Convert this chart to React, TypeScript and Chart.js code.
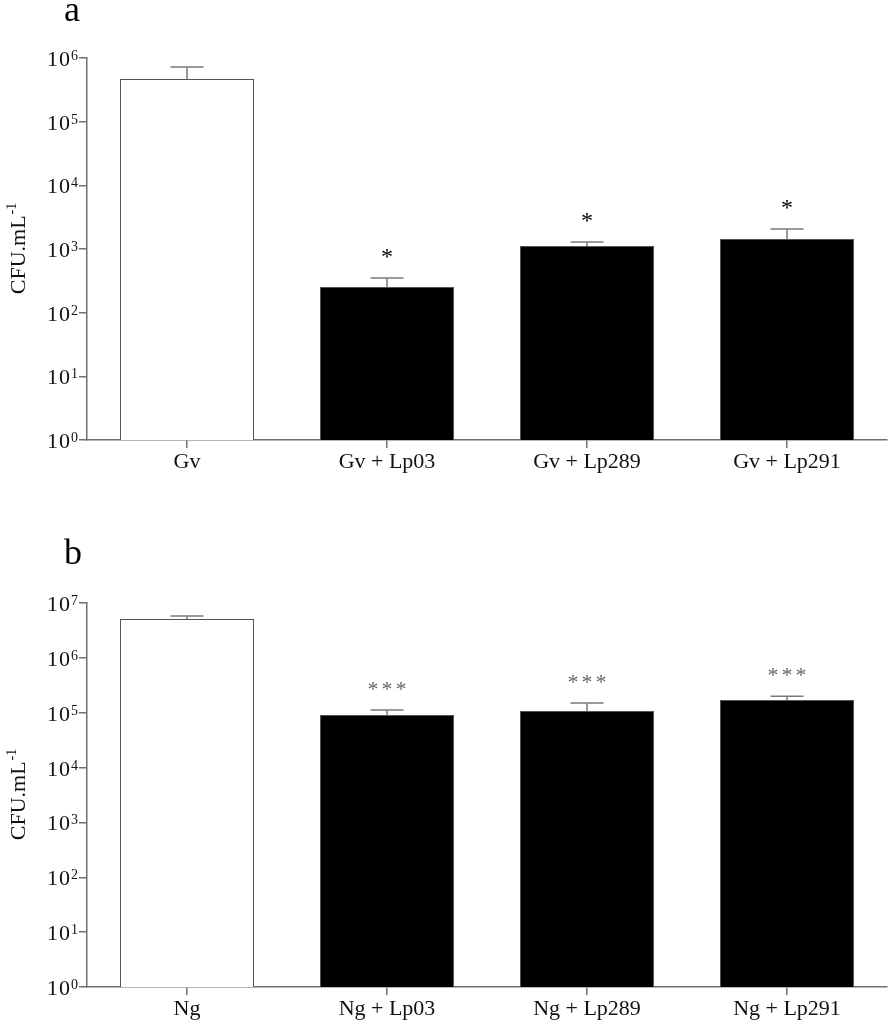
import React, { useEffect, useRef } from 'react';
import { Chart, registerables } from 'chart.js';

Chart.register(...registerables);

// ---- Data (panel a) ----
const categoriesA = ['Gv', 'Gv + Lp03', 'Gv + Lp289', 'Gv + Lp291'];
const meansA = [470000, 253, 1110, 1430];
const errorsA = [250000, 97, 180, 630];
const signifA = ['', '*', '*', '*'];
const tickExponentsA = [0, 1, 2, 3, 4, 5, 6];

// ---- Data (panel b) ----
const categoriesB = ['Ng', 'Ng + Lp03', 'Ng + Lp289', 'Ng + Lp291'];
const meansB = [5100000, 91000, 107000, 170000];
const errorsB = [700000, 21000, 43000, 30000];
const signifB = ['', '***', '***', '***'];
const tickExponentsB = [0, 1, 2, 3, 4, 5, 6, 7];

const barColors = ['#ffffff', '#000000', '#000000', '#000000'];
const yTitle = 'CFU.mL';
const yTitleSup = '-1';

const SERIF = '"Liberation Serif", "Times New Roman", serif';
const AXIS = '#6e6e6e';

type PanelCfg = {
  labels: string[];
  means: number[];
  errors: number[];
  signif: string[];
  sigColor: string;
  sigSize: number;
  sigSpacing: number;
  tickExps: number[];
  panelLabel: string;
  panelLabelY: number;
  width: number;
  height: number;
  top: number;
  bottom: number;
};

function makeChart(canvas: HTMLCanvasElement, cfg: PanelCfg) {
  const maxExp = cfg.tickExps[cfg.tickExps.length - 1];
  const overlay = {
    id: 'overlay',
    afterDraw(chart: any) {
      const ctx = chart.ctx;
      const y = chart.scales.y;
      const meta = chart.getDatasetMeta(0);
      ctx.save();
      // y tick labels with superscript exponents
      ctx.fillStyle = '#111';
      ctx.textBaseline = 'alphabetic';
      cfg.tickExps.forEach((e) => {
        const py = y.getPixelForValue(Math.pow(10, e));
        const right = 78;
        ctx.font = `14px ${SERIF}`;
        const ws = ctx.measureText(String(e)).width;
        ctx.textAlign = 'left';
        ctx.fillText(String(e), right - ws, py + 2);
        ctx.font = `22px ${SERIF}`;
        ctx.textAlign = 'right';
        (ctx as any).letterSpacing = '1px';
        ctx.fillText('10', right - ws, py + 8);
        (ctx as any).letterSpacing = '0px';
      });
      // error bars
      ctx.strokeStyle = '#7a7a7a';
      ctx.lineWidth = 1.5;
      cfg.means.forEach((m, i) => {
        const bar = meta.data[i];
        const yTop = y.getPixelForValue(m);
        const yCap = y.getPixelForValue(m + cfg.errors[i]);
        ctx.beginPath();
        ctx.moveTo(bar.x, yTop);
        ctx.lineTo(bar.x, yCap);
        ctx.moveTo(bar.x - 16.5, yCap);
        ctx.lineTo(bar.x + 16.5, yCap);
        ctx.stroke();
        const s = cfg.signif[i];
        if (s) {
          ctx.fillStyle = cfg.sigColor;
          ctx.font = `${cfg.sigSize}px ${SERIF}`;
          ctx.textAlign = 'center';
          ctx.textBaseline = 'alphabetic';
          (ctx as any).letterSpacing = `${cfg.sigSpacing}px`;
          ctx.fillText(s, bar.x + cfg.sigSpacing / 2, yCap - 14);
          (ctx as any).letterSpacing = '0px';
        }
      });
      // panel label
      ctx.fillStyle = '#000';
      ctx.font = `36px ${SERIF}`;
      ctx.textAlign = 'left';
      ctx.textBaseline = 'alphabetic';
      ctx.fillText(cfg.panelLabel, 64, cfg.panelLabelY);
      // y axis title
      const cy = (chart.chartArea.top + chart.chartArea.bottom) / 2;
      ctx.translate(25, cy);
      ctx.rotate(-Math.PI / 2);
      ctx.font = `22px ${SERIF}`;
      const w1 = ctx.measureText(yTitle).width;
      ctx.font = `14px ${SERIF}`;
      const w2 = ctx.measureText(yTitleSup).width;
      const start = -(w1 + w2) / 2;
      ctx.fillStyle = '#111';
      ctx.font = `22px ${SERIF}`;
      ctx.fillText(yTitle, start, 0);
      ctx.font = `14px ${SERIF}`;
      ctx.fillText(yTitleSup, start + w1 + 1, -9);
      ctx.restore();
    },
  };

  return new Chart(canvas, {
    type: 'bar',
    data: {
      labels: cfg.labels,
      datasets: [
        {
          data: cfg.means,
          backgroundColor: barColors,
          borderColor: '#555',
          borderWidth: 1,
          barPercentage: 0.67,
          categoryPercentage: 1,
        },
      ],
    },
    options: {
      responsive: false,
      animation: false,
      devicePixelRatio: 1,
      layout: { padding: { left: 0, right: 7, top: cfg.top, bottom: 0 } },
      plugins: { legend: { display: false }, tooltip: { enabled: false } },
      scales: {
        x: {
          grid: { display: true, drawOnChartArea: false, offset: false, tickLength: 8, color: AXIS, lineWidth: 1.5 },
          border: { display: true, color: AXIS, width: 1.5 },
          ticks: { color: '#111', font: { family: SERIF, size: 22 }, padding: 1, maxRotation: 0, autoSkip: false },
          afterFit: (s: any) => {
            s.height = cfg.height - cfg.bottom;
          },
        },
        y: {
          type: 'logarithmic',
          min: 1,
          max: Math.pow(10, maxExp),
          afterBuildTicks: (s: any) => {
            s.ticks = cfg.tickExps.map((e) => ({ value: Math.pow(10, e) }));
          },
          grid: { display: true, drawOnChartArea: false, tickLength: 8, color: AXIS, lineWidth: 1.5 },
          border: { display: true, color: AXIS, width: 1.5 },
          ticks: { display: false, autoSkip: false },
          afterFit: (s: any) => {
            s.width = 87;
          },
        },
      },
    },
    plugins: [overlay],
  } as any);
}

function Panel({ cfg, top }: { cfg: PanelCfg; top: number }) {
  const ref = useRef<HTMLCanvasElement>(null);
  useEffect(() => {
    const c = makeChart(ref.current!, cfg);
    return () => c.destroy();
  }, []);
  return (
    <canvas
      ref={ref}
      width={cfg.width}
      height={cfg.height}
      style={{ position: 'absolute', left: 0, top, width: cfg.width, height: cfg.height, display: 'block' }}
    />
  );
}

const cfgA: PanelCfg = {
  labels: categoriesA,
  means: meansA,
  errors: errorsA,
  signif: signifA,
  sigColor: '#000',
  sigSize: 24,
  sigSpacing: 0,
  tickExps: tickExponentsA,
  panelLabel: 'a',
  panelLabelY: 21,
  width: 894,
  height: 500,
  top: 58,
  bottom: 440,
};

const cfgB: PanelCfg = {
  labels: categoriesB,
  means: meansB,
  errors: errorsB,
  signif: signifB,
  sigColor: '#666',
  sigSize: 22,
  sigSpacing: 3,
  tickExps: tickExponentsB,
  panelLabel: 'b',
  panelLabelY: 64,
  width: 894,
  height: 525,
  top: 103,
  bottom: 487,
};

export default function App() {
  return (
    <div style={{ position: 'absolute', left: 0, top: 0, width: 894, height: 1025, background: '#fff', overflow: 'hidden' }}>
      <Panel cfg={cfgA} top={0} />
      <Panel cfg={cfgB} top={500} />
    </div>
  );
}
